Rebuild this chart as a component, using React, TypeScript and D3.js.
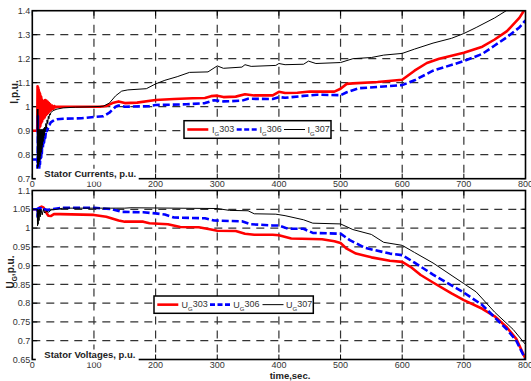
import React from 'react';
import * as d3 from 'd3';

// time axis ticks (shared)
const timeTicks = [0, 100, 200, 300, 400, 500, 600, 700, 800];
const currentTicks = [0.7, 0.8, 0.9, 1, 1.1, 1.2, 1.3, 1.4];
const voltageTicks = [0.65, 0.7, 0.75, 0.8, 0.85, 0.9, 0.95, 1, 1.05, 1.1];

// Stator currents
const tI303 = [0, 8, 8.5, 9, 9.5, 10, 10.5, 11, 11.5, 12, 12.5, 13, 13.5, 14, 14.5, 15, 15.5, 16, 17, 18, 19, 20, 21, 22, 23, 24, 25, 26, 27, 28, 29, 30, 32, 34, 36, 38, 40, 50, 80, 110, 120, 130, 140, 150, 170, 200, 230, 260, 280, 290, 300, 310, 330, 345, 360, 390, 400, 410, 430, 450, 490, 500, 510, 520, 560, 600, 620, 640, 660, 700, 730, 750, 770, 790, 800];
const iG303 = [0.9, 0.9, 1.085, 0.9, 1.08, 0.905, 1.07, 0.91, 1.06, 0.915, 1.055, 0.92, 1.045, 0.93, 1.04, 0.935, 1.03, 0.94, 1.02, 0.95, 1.025, 0.955, 1.028, 0.965, 1.025, 0.97, 1.02, 0.975, 1.015, 0.98, 1.01, 0.985, 1.005, 0.99, 1.003, 0.997, 1.0, 1.0, 1.0, 1.0, 1.003, 1.015, 1.022, 1.015, 1.017, 1.028, 1.032, 1.035, 1.036, 1.044, 1.046, 1.04, 1.042, 1.052, 1.047, 1.047, 1.062, 1.057, 1.058, 1.063, 1.063, 1.075, 1.095, 1.097, 1.103, 1.112, 1.15, 1.182, 1.2, 1.225, 1.25, 1.28, 1.315, 1.37, 1.41];

const tI306 = [0, 8, 8.5, 9, 9.5, 10, 10.5, 11, 11.5, 12, 12.5, 13, 13.5, 14, 14.5, 15, 15.5, 16, 17, 18, 19, 20, 21, 22, 23, 24, 25, 26, 28, 30, 33, 36, 40, 50, 80, 100, 115, 125, 135, 140, 150, 190, 200, 250, 280, 295, 310, 340, 350, 390, 400, 410, 440, 462, 500, 510, 530, 560, 600, 620, 650, 700, 730, 750, 770, 790, 800];
const iG306 = [0.78, 0.78, 0.72, 0.96, 0.72, 0.79, 0.73, 0.8, 0.745, 0.81, 0.76, 0.82, 0.775, 0.83, 0.79, 0.84, 0.805, 0.85, 0.825, 0.865, 0.85, 0.88, 0.87, 0.895, 0.89, 0.91, 0.905, 0.92, 0.925, 0.935, 0.94, 0.945, 0.948, 0.95, 0.952, 0.957, 0.96, 0.975, 1.0, 1.005, 1.0, 1.002, 1.007, 1.01, 1.015, 1.027, 1.022, 1.025, 1.033, 1.032, 1.04, 1.037, 1.045, 1.05, 1.048, 1.06, 1.077, 1.082, 1.09, 1.11, 1.15, 1.19, 1.22, 1.255, 1.29, 1.33, 1.36];

const tI307 = [8, 8.5, 9, 9.5, 10, 10.5, 11, 11.5, 12, 12.5, 13, 13.5, 14, 14.5, 15, 15.5, 16, 16.5, 17, 17.5, 18, 18.5, 19, 19.5, 20, 21, 22, 23, 24, 25, 26, 27, 28, 29, 30, 32, 35, 40, 50, 70, 100, 115, 125, 135, 145, 155, 185, 200, 215, 235, 255, 285, 300, 310, 340, 345, 355, 395, 400, 410, 440, 448, 460, 500, 520, 550, 570, 600, 620, 650, 680, 700, 720, 750, 775];
const iG307 = [0.99, 0.73, 0.99, 0.75, 0.905, 0.76, 0.905, 0.77, 0.905, 0.78, 0.905, 0.795, 0.905, 0.81, 0.905, 0.825, 0.905, 0.84, 0.905, 0.855, 0.908, 0.87, 0.91, 0.88, 0.915, 0.895, 0.93, 0.91, 0.945, 0.93, 0.96, 0.95, 0.97, 0.965, 0.975, 0.98, 0.985, 0.99, 0.995, 0.998, 1.0, 1.002, 1.015, 1.045, 1.065, 1.07, 1.075, 1.095, 1.11, 1.125, 1.143, 1.145, 1.17, 1.16, 1.165, 1.175, 1.168, 1.172, 1.18, 1.175, 1.177, 1.19, 1.18, 1.184, 1.2, 1.205, 1.215, 1.222, 1.24, 1.265, 1.285, 1.305, 1.33, 1.37, 1.41];

// Stator voltages
const tU303 = [0, 8, 9, 10, 12, 15, 18, 20, 23, 26, 30, 35, 45, 100, 120, 140, 150, 180, 190, 220, 240, 270, 290, 300, 330, 345, 360, 390, 400, 420, 470, 490, 500, 510, 525, 550, 580, 600, 615, 630, 650, 680, 700, 730, 750, 770, 785, 800];
const uG303 = [1.05, 1.05, 1.045, 1.05, 1.055, 1.057, 1.055, 1.05, 1.04, 1.033, 1.032, 1.037, 1.037, 1.035, 1.03, 1.02, 1.017, 1.017, 1.013, 1.01, 1.003, 1.002, 0.996, 0.993, 0.992, 0.985, 0.982, 0.982, 0.981, 0.972, 0.97, 0.965, 0.96, 0.945, 0.932, 0.922, 0.913, 0.91, 0.895, 0.875, 0.855, 0.826, 0.808, 0.785, 0.765, 0.735, 0.705, 0.652];

const tU306 = [0, 8, 8.5, 9, 10, 11, 12, 14, 16, 20, 25, 30, 40, 50, 100, 130, 145, 180, 200, 215, 230, 280, 295, 340, 355, 390, 400, 415, 440, 455, 500, 515, 540, 580, 600, 620, 650, 700, 730, 750, 770, 785, 800];
const uG306 = [1.05, 1.05, 1.03, 1.052, 1.04, 1.053, 1.045, 1.053, 1.048, 1.05, 1.048, 1.05, 1.052, 1.054, 1.054, 1.05, 1.043, 1.042, 1.039, 1.036, 1.028, 1.026, 1.02, 1.018, 1.01, 1.007, 1.007, 0.998, 0.998, 0.987, 0.985, 0.968, 0.947, 0.932, 0.928, 0.908, 0.876, 0.828, 0.795, 0.762, 0.73, 0.7, 0.65];

const tU307 = [0, 8, 8.5, 9, 9.5, 10, 11, 12, 13, 14, 16, 18, 20, 23, 27, 30, 40, 50, 150, 160, 300, 320, 350, 360, 395, 410, 440, 455, 500, 520, 550, 570, 600, 620, 650, 700, 720, 750, 780, 800];
const uG307 = [1.05, 1.05, 1.006, 1.05, 1.01, 1.048, 1.02, 1.05, 1.03, 1.05, 1.035, 1.05, 1.04, 1.045, 1.042, 1.048, 1.05, 1.053, 1.053, 1.054, 1.052, 1.047, 1.046, 1.038, 1.037, 1.033, 1.022, 1.013, 1.011, 0.996, 0.983, 0.962, 0.954, 0.935, 0.907, 0.852, 0.83, 0.776, 0.73, 0.69];

const seriesNames = ['303', '306', '307'];
const seriesColors = ['#ff0000', '#0000ff', '#000000'];

const W = 531;
const H = 381;
const X0 = 32.3;
const X1 = 525.5;
const font = 'Arial, "Liberation Sans", Helvetica, sans-serif';

const x = d3.scaleLinear().domain([0, 800]).range([X0, X1]);

type Series = { t: number[]; v: number[] };

function Panel({ id, y, ticks, series, symbol, title, legendBox }: {
  id: string;
  y: d3.ScaleLinear<number, number>;
  ticks: number[];
  series: Series[];
  symbol: string;
  title: string;
  legendBox: { x: number; y: number; w: number; h: number; sampleX: number[]; textX: number[] };
}) {
  const [yBot, yTop] = y.range();
  const line = d3.line<[number, number]>().x(d => x(d[0])).y(d => y(d[1]));
  const strokeW = [2.6, 2.6, 1];
  const dashes = [undefined, '7,3', undefined];
  const fmt = (v: number) => (v === 1 ? '1' : String(v));
  const ly = legendBox.y + legendBox.h / 2;

  return (
    <g>
      <defs>
        <clipPath id={id}>
          <rect x={X0} y={yTop} width={X1 - X0} height={yBot - yTop} />
        </clipPath>
      </defs>
      {/* grid */}
      {timeTicks.slice(1, -1).map(t => (
        <line key={'gx' + t} x1={x(t)} x2={x(t)} y1={yTop} y2={yBot} stroke="#333" strokeWidth={1.2} strokeDasharray="8,6" />
      ))}
      {ticks.slice(1, -1).map(v => (
        <line key={'gy' + v} x1={X0} x2={X1} y1={y(v)} y2={y(v)} stroke="#333" strokeWidth={1.2} strokeDasharray="8,6" />
      ))}
      {/* inner ticks */}
      {timeTicks.map(t => (
        <g key={'tx' + t}>
          <line x1={x(t)} x2={x(t)} y1={yBot} y2={yBot - 5} stroke="#000" />
          <line x1={x(t)} x2={x(t)} y1={yTop} y2={yTop + 5} stroke="#000" />
        </g>
      ))}
      {ticks.map(v => (
        <g key={'ty' + v}>
          <line x1={X0} x2={X0 + 5} y1={y(v)} y2={y(v)} stroke="#000" />
          <line x1={X1} x2={X1 - 5} y1={y(v)} y2={y(v)} stroke="#000" />
        </g>
      ))}
      {/* data */}
      <g clipPath={`url(#${id})`}>
        {series.map((s, i) => (
          <path key={i} d={line(s.t.map((t, k) => [t, s.v[k]] as [number, number])) || ''} fill="none"
            stroke={seriesColors[i]} strokeWidth={strokeW[i]} strokeDasharray={dashes[i]} strokeLinejoin="round" />
        ))}
      </g>
      {/* frame */}
      <rect x={X0} y={yTop} width={X1 - X0} height={yBot - yTop} fill="none" stroke="#000" strokeWidth={1.6} />
      {/* tick labels */}
      {ticks.map(v => (
        <text key={'ly' + v} x={X0 - 2} y={y(v)} dy="0.35em" textAnchor="end" fontSize={9} fill="#333" fontFamily={font}>{fmt(v)}</text>
      ))}
      {timeTicks.map(t => (
        <text key={'lx' + t} x={x(t)} y={yBot + 8.3} textAnchor="middle" fontSize={9} fill="#333" fontFamily={font}>{t}</text>
      ))}
      {/* legend */}
      <rect x={legendBox.x} y={legendBox.y} width={legendBox.w} height={legendBox.h} fill="#fff" stroke="#000" strokeWidth={1.5} />
      {seriesNames.map((n, i) => (
        <g key={'lg' + n}>
          <line x1={legendBox.sampleX[i]} x2={legendBox.sampleX[i] + 21} y1={ly} y2={ly} stroke={seriesColors[i]}
            strokeWidth={strokeW[i]} strokeDasharray={i === 1 ? '5,2.5' : undefined} />
          <text x={legendBox.textX[i]} y={ly + 3} fontSize={9} fill="#333" fontFamily={font}>
            {symbol}
            <tspan fontSize={6} dy={3}>G</tspan>
            <tspan dy={-4}>{n}</tspan>
          </text>
        </g>
      ))}
      {/* title box */}
      <rect x={X0 + 3.5} y={yBot - 10} width={title.length * 4.9} height={13} fill="#fff" />
      <text x={X0 + 12} y={yBot - 1.5} fontSize={9.5} fontWeight="bold" fill="#222" fontFamily={font}>{title}</text>
    </g>
  );
}

export default function App() {
  const yI = d3.scaleLinear().domain([0.7, 1.4]).range([178.7, 10.7]);
  const yU = d3.scaleLinear().domain([0.65, 1.1]).range([359.5, 190.5]);

  return (
    <svg width={W} height={H} style={{ position: 'absolute', left: 0, top: 0, background: '#fff' }}>
      <rect width={W} height={H} fill="#fff" />
      <Panel
        id="clipI"
        y={yI}
        ticks={currentTicks}
        series={[{ t: tI303, v: iG303 }, { t: tI306, v: iG306 }, { t: tI307, v: iG307 }]}
        symbol="I"
        title="Stator Currents, p.u."
        legendBox={{ x: 184, y: 120.7, w: 147, h: 17.6, sampleX: [187.3, 236.7, 284], textX: [212, 259.5, 307.5] }}
      />
      <Panel
        id="clipU"
        y={yU}
        ticks={voltageTicks}
        series={[{ t: tU303, v: uG303 }, { t: tU306, v: uG306 }, { t: tU307, v: uG307 }]}
        symbol="U"
        title="Stator Voltages, p.u."
        legendBox={{ x: 154, y: 296, w: 159.3, h: 17.3, sampleX: [157.3, 210, 262.5], textX: [181.5, 233.3, 286] }}
      />
      <text transform="translate(18,92) rotate(-90)" textAnchor="middle" fontSize={10} fontWeight="bold" fill="#222" fontFamily={font}>I,p.u.</text>
      <text transform="translate(14,272) rotate(-90)" textAnchor="middle" fontSize={10} fontWeight="bold" fill="#222" fontFamily={font}>
        U<tspan fontSize={6.5} dy={3}>G</tspan><tspan dy={-3}>,p.u.</tspan>
      </text>
      <text x={290} y={378.5} textAnchor="middle" fontSize={9.5} fontWeight="bold" fill="#222" fontFamily={font}>time,sec.</text>
    </svg>
  );
}
